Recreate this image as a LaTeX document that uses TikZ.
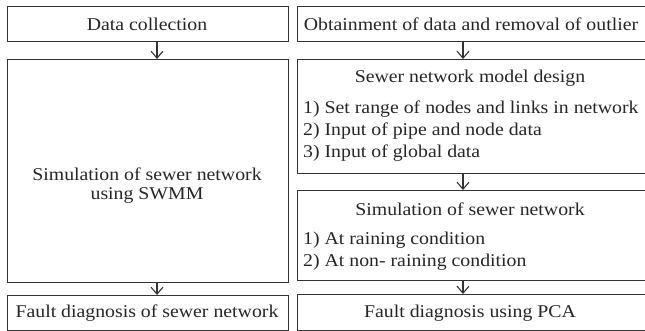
\documentclass[tikz,border=0pt]{standalone}
\usepackage{fontspec}
\setmainfont{Liberation Serif}[FakeStretch=1.1]
\usetikzlibrary{arrows.meta}
\begin{document}
\begin{tikzpicture}[x=1pt,y=-1pt,
  box/.style={draw=black!80, line width=1.2pt, inner sep=0pt},
  txt/.style={inner sep=0pt, text=black!85, font=\fontsize{18}{19}\selectfont},
  lst/.style={txt, anchor=west},
  arr/.style={draw=black!80, line width=1.1pt, -{Straight Barb[length=7pt,width=12pt,line width=1.1pt]}}]
\useasboundingbox (0,0) rectangle (645,331);
\clip (0,0) rectangle (645,331);
% boxes
\node[box, minimum width=281pt, minimum height=35pt, anchor=north west] (A) at (7,6) {};
\node[box, minimum width=351pt, minimum height=35pt, anchor=north west] (B) at (297,6) {};
\node[box, minimum width=281pt, minimum height=223pt, anchor=north west] (C) at (7,59) {};
\node[box, minimum width=351pt, minimum height=114pt, anchor=north west] (D) at (297,59) {};
\node[box, minimum width=351pt, minimum height=90pt, anchor=north west] (E) at (297,190) {};
\node[box, minimum width=281pt, minimum height=35pt, anchor=north west] (F) at (7,295) {};
\node[box, minimum width=351pt, minimum height=36pt, anchor=north west] (G) at (297,294) {};
% texts
\node[txt] (tA) at (147,24) {Data collection};
\node[txt] (tB) at (471,24) {Obtainment of data and removal of outlier};
\node[txt, align=center] (tC) at (147,186) {Simulation of sewer network\\using SWMM};
\node[txt] (tD) at (470,78) {Sewer network model design};
\node[lst] (tD1) at (303,109) {1) Set range of nodes and links in network};
\node[lst] (tD2) at (303,131) {2) Input of pipe and node data};
\node[lst] (tD3) at (303,153) {3) Input of global data};
\node[txt] (tE) at (470,209) {Simulation of sewer network};
\node[lst] (tE1) at (303,240) {1) At raining condition};
\node[lst] (tE2) at (303,262) {2) At non- raining condition};
\node[txt] (tF) at (147,313) {Fault diagnosis of sewer network};
\node[txt] (tG) at (470,313) {Fault diagnosis using PCA};
% arrows
\coordinate (la) at (157,0);
\coordinate (ra) at (463,0);
\draw[arr] (A.south -| la) -- (C.north -| la);
\draw[arr] (C.south -| la) -- (F.north -| la);
\draw[arr] (B.south -| ra) -- (D.north -| ra);
\draw[arr] (D.south -| ra) -- (E.north -| ra);
\draw[arr] (E.south -| ra) -- (G.north -| ra);
\end{tikzpicture}
\end{document}
